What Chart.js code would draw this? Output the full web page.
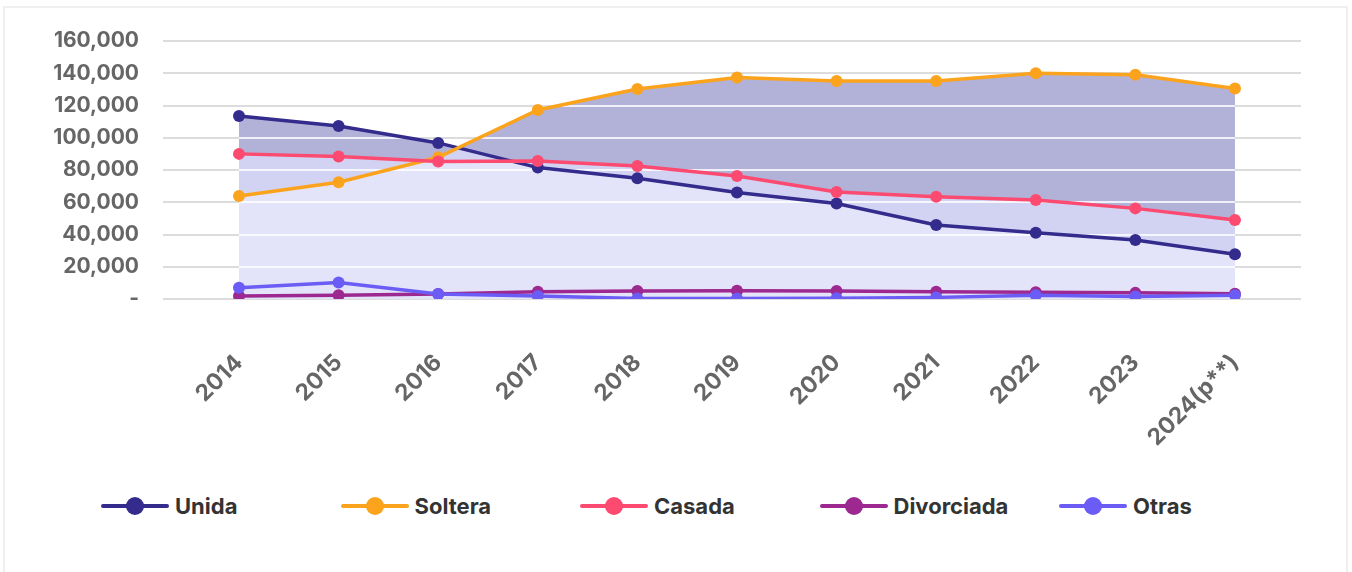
<!DOCTYPE html>
<html lang="es">
<head>
<meta charset="utf-8">
<title>Estado civil</title>
<script src="https://cdn.jsdelivr.net/npm/chart.js@4.4.1/dist/chart.umd.min.js"></script>
<style>
    body { margin: 0; background: #fff; font-family: 'Inter', 'Liberation Sans', sans-serif; }
    .card { position: absolute; left: 3px; top: 6px; width: 1341px; height: 600px; border: 2px solid #efefef; }
    #chart { position: absolute; left: 0; top: 0; }
    .legend { position: absolute; left: 101px; top: 493px; display: flex; }
    .legend-item { width: 239.5px; display: flex; align-items: center; font-weight: 700; font-size: 22px; color: #333; }
    .legend-mark { position: relative; width: 68px; height: 18px; margin-right: 6px; }
    .legend-mark::before { content: ''; position: absolute; left: 0; right: 0; top: 7px; height: 4px; border-radius: 2px; background: var(--c); }
    .legend-mark::after { content: ''; position: absolute; left: 25px; top: 0; width: 18px; height: 18px; border-radius: 50%; background: var(--c); }
</style>
</head>
<body>
<div class="card"></div>
<canvas id="chart" width="1352" height="460"></canvas>
<div class="legend" id="legend"></div>
<script>
const years = ['2014', '2015', '2016', '2017', '2018', '2019', '2020', '2021', '2022', '2023', '2024(p**)'];
const unida = [113500, 107300, 96800, 81500, 74900, 66000, 59200, 45900, 41100, 36600, 27700];
const soltera = [63900, 72400, 87900, 117200, 130200, 137300, 135200, 135200, 140000, 139000, 130600];
const casada = [90000, 88300, 85300, 85600, 82500, 76300, 66400, 63400, 61400, 56200, 49000];
const divorciada = [1900, 2300, 3100, 4500, 5000, 5100, 5000, 4500, 4200, 3800, 3200];
const otras = [7000, 10300, 3100, 1900, 300, 300, 400, 1000, 2400, 1500, 2400];

const seriesNames = ['Unida', 'Soltera', 'Casada', 'Divorciada', 'Otras'];
const seriesColors = ['#332c8c', '#fca31d', '#fc4a70', '#9c2890', '#6b5cf6'];
const bandColors = ['#b2b2d9', '#d2d2f3', '#e3e3f9'];

// bandas de fondo: mayor, intermedia y menor de Unida/Soltera/Casada en cada punto
function rankedBands() {
    const series = [unida, soltera, casada];
    const top = [], mid = [], low = [];
    const push = (x, vals) => {
        const s = vals.slice().sort((a, b) => a - b);
        low.push({ x, y: s[0] });
        mid.push({ x, y: s[1] });
        top.push({ x, y: s[2] });
    };
    for (let i = 0; i < years.length; i++) {
        push(i, series.map(s => s[i]));
        if (i === years.length - 1) break;
        const cuts = [];
        for (let a = 0; a < 3; a++) {
            for (let b = a + 1; b < 3; b++) {
                const d0 = series[a][i] - series[b][i];
                const d1 = series[a][i + 1] - series[b][i + 1];
                if (d0 * d1 < 0) cuts.push(d0 / (d0 - d1));
            }
        }
        cuts.sort((p, q) => p - q).forEach(t => {
            push(i + t, series.map(s => s[i] + (s[i + 1] - s[i]) * t));
        });
    }
    return { top, mid, low };
}

const bands = rankedBands();
const values = [unida, soltera, casada, divorciada, otras];

const lineSets = values.map((vals, i) => ({
    label: seriesNames[i],
    data: vals.map((v, j) => ({ x: j, y: v })),
    borderColor: seriesColors[i],
    backgroundColor: seriesColors[i],
    pointBackgroundColor: seriesColors[i],
    borderWidth: 3.5,
    pointRadius: 6,
    pointBorderWidth: 0,
    fill: false,
    order: 5 - i
}));

const bandSet = (data, fill, color) => ({
    label: '',
    data,
    borderColor: 'transparent',
    borderWidth: 0,
    pointRadius: 0,
    backgroundColor: color,
    fill,
    order: 10
});

// líneas blancas de la cuadrícula sobre el área rellena
const gridOverFill = {
    id: 'gridOverFill',
    beforeDatasetsDraw(chart) {
        const { ctx, chartArea, scales } = chart;
        const pts = chart.getDatasetMeta(5).data;
        if (!pts.length) return;
        const base = scales.y.getPixelForValue(0);
        ctx.save();
        ctx.beginPath();
        ctx.moveTo(pts[0].x, base);
        pts.forEach(p => ctx.lineTo(p.x, p.y));
        ctx.lineTo(pts[pts.length - 1].x, base);
        ctx.closePath();
        ctx.clip();
        ctx.strokeStyle = 'rgba(255,255,255,0.8)';
        ctx.lineWidth = 2;
        scales.y.ticks.forEach(t => {
            if (t.value === 0) return;
            const y = Math.round(scales.y.getPixelForValue(t.value));
            ctx.beginPath();
            ctx.moveTo(chartArea.left, y);
            ctx.lineTo(chartArea.right, y);
            ctx.stroke();
        });
        ctx.restore();
    }
};

Chart.defaults.font.family = "'Inter', 'Liberation Sans', sans-serif";

new Chart(document.getElementById('chart'), {
    type: 'line',
    data: {
        datasets: [
            ...lineSets,
            bandSet(bands.top, 6, bandColors[0]),
            bandSet(bands.mid, 7, bandColors[1]),
            bandSet(bands.low, 'origin', bandColors[2])
        ]
    },
    options: {
        responsive: false,
        animation: false,
        layout: { padding: { left: 52, right: 51, top: 41, bottom: 11 } },
        scales: {
            x: {
                type: 'linear',
                min: -0.763,
                max: 10.663,
                afterBuildTicks: s => { s.ticks = years.map((_, i) => ({ value: i })); },
                afterFit: s => { s.height = 150; },
                grid: { display: false },
                border: { display: false },
                ticks: {
                    autoSkip: false,
                    minRotation: 45,
                    maxRotation: 45,
                    padding: 42,
                    color: '#666',
                    font: { size: 23, weight: 'bold' },
                    callback: v => years[v]
                }
            },
            y: {
                min: 0,
                max: 160000,
                afterFit: s => { s.width = 111; },
                grid: { color: '#dcdcdc', lineWidth: 2, drawTicks: false },
                border: { display: false },
                ticks: {
                    stepSize: 20000,
                    padding: 24,
                    color: '#666',
                    font: { size: 21, weight: 'bold' },
                    callback: v => v === 0 ? '-' : v.toLocaleString('en-US')
                }
            }
        },
        plugins: {
            legend: { display: false },
            tooltip: { enabled: false },
            filler: { drawTime: 'beforeDatasetsDraw', propagate: false }
        }
    },
    plugins: [gridOverFill]
});

const legend = document.getElementById('legend');
seriesNames.forEach((name, i) => {
    const item = document.createElement('div');
    item.className = 'legend-item';
    item.innerHTML = `<span class="legend-mark" style="--c:${seriesColors[i]}"></span>${name}`;
    legend.appendChild(item);
});
</script>
</body>
</html>
